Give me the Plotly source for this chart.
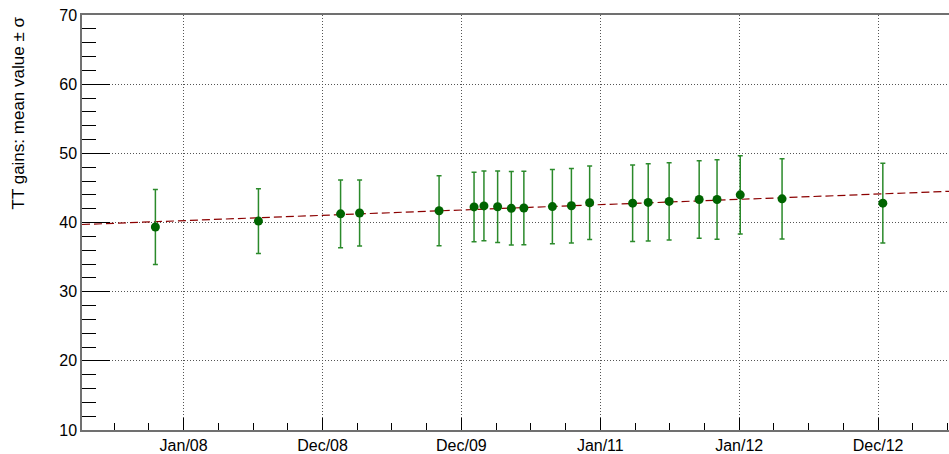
import datetime as dt
import plotly.graph_objects as go

# Measurement dates and TT gain statistics (mean and RMS spread)
dates = [
    "2007-10-19", "2008-07-16", "2009-02-17", "2009-04-08", "2009-11-03",
    "2010-02-03", "2010-03-01", "2010-04-06", "2010-05-12", "2010-06-14",
    "2010-08-28", "2010-10-17", "2010-12-04", "2011-03-27", "2011-05-07",
    "2011-07-01", "2011-09-18", "2011-11-04", "2012-01-04", "2012-04-23",
    "2013-01-13",
]
mean_gain = [
    39.35, 40.20, 41.25, 41.37, 41.70,
    42.25, 42.40, 42.28, 42.05, 42.10,
    42.30, 42.42, 42.85, 42.80, 42.90,
    43.05, 43.33, 43.33, 44.00, 43.42,
    42.80,
]
sigma_gain = [
    5.43, 4.67, 4.90, 4.78, 5.07,
    5.02, 5.03, 5.17, 5.32, 5.30,
    5.38, 5.38, 5.31, 5.53, 5.58,
    5.58, 5.60, 5.74, 5.65, 5.80,
    5.77,
]

# Linear fit: value at reference date and slope per year
fit_ref_date = "2008-01-01"
fit_p0 = 40.27
fit_slope_per_year = 0.769

# Time axis: major ticks every 365.25 days
tick_start = dt.datetime(2008, 1, 1, 6, 0)
tick_step = dt.timedelta(days=365.25)
tick_labels = ["Jan/08", "Dec/08", "Dec/09", "Jan/11", "Jan/12", "Dec/12"]

x_range = [dt.datetime(2007, 4, 9), dt.datetime(2013, 7, 6)]
y_range = [10, 70]

tick_vals = [tick_start + i * tick_step for i in range(len(tick_labels))]
minor_vals = [tick_start + (i / 4) * tick_step for i in range(-3, 4 * len(tick_labels) + 2)]

x_dates = [dt.datetime.fromisoformat(d) for d in dates]

ref = dt.datetime.fromisoformat(fit_ref_date)
def fit_value(t):
    return fit_p0 + fit_slope_per_year * (t - ref).total_seconds() / (365.25 * 86400)

fit_x = [x_range[0], x_range[1]]
fit_y = [fit_value(t) for t in fit_x]

fig = go.Figure()

fig.add_trace(go.Scatter(
    x=fit_x, y=fit_y, mode="lines",
    line=dict(color="#8b0000", width=1.2, dash="8px,4px"),
    hoverinfo="skip", showlegend=False,
))

fig.add_trace(go.Scatter(
    x=x_dates, y=mean_gain, mode="markers",
    marker=dict(color="#006400", size=9, line=dict(width=0)),
    error_y=dict(type="data", array=sigma_gain, visible=True,
                 color="#2b8a2b", thickness=1.5, width=2.5),
    showlegend=False,
))

font = dict(family="Liberation Sans, Arial, sans-serif", size=16, color="black")

fig.update_layout(
    width=949, height=454,
    margin=dict(l=82, r=0, t=15, b=21),
    paper_bgcolor="white", plot_bgcolor="white",
    font=font,
    showlegend=False,
)

fig.update_xaxes(
    type="date", range=x_range,
    tickmode="array", tickvals=tick_vals, ticktext=tick_labels,
    ticks="inside", ticklen=12, tickwidth=1, tickcolor="black",
    showline=True, linecolor="#707070", linewidth=1.5, mirror=True,
    showgrid=True, gridcolor="#555", gridwidth=1, griddash="1px,2px",
    zeroline=False, tickfont=font,
    minor=dict(tickmode="array", tickvals=minor_vals, ticks="inside",
               ticklen=7, tickwidth=1, tickcolor="black", showgrid=False),
)

fig.update_yaxes(
    range=y_range, tickmode="linear", tick0=10, dtick=10,
    ticks="inside", ticklen=28, tickwidth=1, tickcolor="black",
    showline=True, linecolor="#707070", linewidth=1.5, mirror=False,
    showgrid=True, gridcolor="#555", gridwidth=1, griddash="1px,2px",
    zeroline=False, tickfont=font,
    minor=dict(dtick=2, tick0=10, ticks="inside", ticklen=14,
               tickwidth=1, tickcolor="black", showgrid=False),
)

fig.add_annotation(
    text="TT gains: mean value \u00b1 \u03c3",
    xref="paper", yref="paper", x=0, y=1,
    xanchor="center", yanchor="top", xshift=-64,
    textangle=-90, showarrow=False,
    font=dict(family="Liberation Sans, Arial, sans-serif", size=17, color="black"),
)

fig.write_html("out.html")
